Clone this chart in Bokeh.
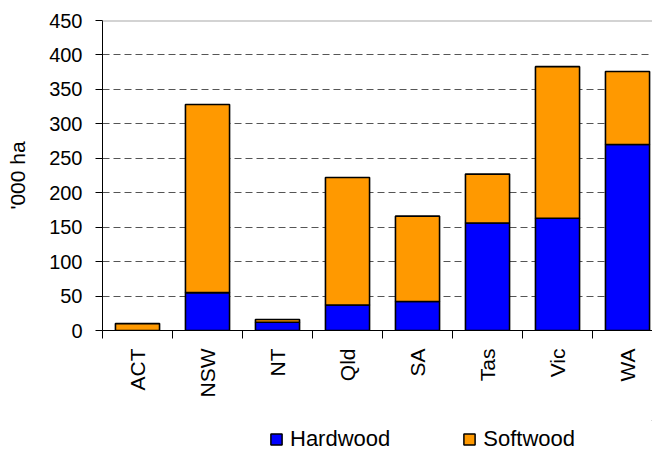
import math
from bokeh.plotting import figure
from bokeh.models import (Range1d, FixedTicker, Legend, LegendItem, Span)
from bokeh.layouts import column
from bokeh.embed import file_html
from bokeh.resources import INLINE

# ---- data ----
states = ["ACT", "NSW", "NT", "Qld", "SA", "Tas", "Vic", "WA"]
hardwood = [0, 55, 12, 37, 42, 156, 163, 270]
softwood = [10, 273, 4, 185, 124, 71, 220, 106]
y_ticks = [0, 50, 100, 150, 200, 250, 300, 350, 400, 450]
series_names = ["Hardwood", "Softwood"]
colors = ["#0000FF", "#FF9900"]

FONT = "Liberation Sans"

x_pos = [i + 0.5 for i in range(len(states))]
bottom_soft = hardwood
top_soft = [h + s for h, s in zip(hardwood, softwood)]

p = figure(width=652, height=420, output_backend="svg", toolbar_location=None,
           x_range=Range1d(0, 7.857), y_range=Range1d(0, 450),
           min_border_left=102, min_border_top=20, min_border_bottom=90,
           min_border_right=0)
p.outline_line_color = None
p.background_fill_color = "white"
p.border_fill_color = "white"

r_hard = p.vbar(x=x_pos, bottom=0, top=hardwood, width=0.63,
                fill_color=colors[0], line_color="black", line_width=1.6)
r_soft = p.vbar(x=x_pos, bottom=bottom_soft, top=top_soft, width=0.63,
                fill_color=colors[1], line_color="black", line_width=1.6)

# top frame line
p.add_layout(Span(location=450, dimension="width", line_color="#a8a8a8", line_width=2))

# y axis
p.yaxis.ticker = FixedTicker(ticks=y_ticks)
p.yaxis.minor_tick_line_color = None
p.yaxis.major_tick_in = 0
p.yaxis.major_tick_out = 7
p.yaxis.major_tick_line_color = "black"
p.yaxis.axis_line_color = "black"
p.yaxis.major_label_text_font = FONT
p.yaxis.major_label_text_font_size = "20px"
p.yaxis.major_label_text_color = "black"
p.yaxis.major_label_standoff = 13
p.yaxis.axis_label = "'000 ha"
p.yaxis.axis_label_text_font = FONT
p.yaxis.axis_label_text_font_size = "21px"
p.yaxis.axis_label_text_font_style = "normal"
p.yaxis.axis_label_text_color = "black"
p.yaxis.axis_label_standoff = 17

# x axis
p.xaxis.ticker = FixedTicker(ticks=x_pos, minor_ticks=list(range(len(states) + 1)))
p.xaxis.major_label_overrides = {x: s for x, s in zip(x_pos, states)}
p.xaxis.major_label_orientation = math.pi / 2
p.xaxis.major_tick_line_color = None
p.xaxis.major_tick_in = 0
p.xaxis.major_tick_out = 7
p.xaxis.minor_tick_in = 0
p.xaxis.minor_tick_out = 8
p.xaxis.minor_tick_line_color = "black"
p.xaxis.axis_line_color = "black"
p.xaxis.major_label_text_font = FONT
p.xaxis.major_label_text_font_size = "21px"
p.xaxis.major_label_text_color = "black"
p.xaxis.major_label_standoff = 10

# grid
p.xgrid.grid_line_color = None
p.ygrid.ticker = FixedTicker(ticks=y_ticks[1:-1])
p.ygrid.grid_line_color = "#555555"
p.ygrid.grid_line_dash = "7 4"
p.ygrid.grid_line_width = 1

# legend strip (dummy renderers far outside the visible range, used only as legend keys)
p2 = figure(width=652, height=32, output_backend="svg", toolbar_location=None,
            x_range=Range1d(0, 652), y_range=Range1d(0, 32),
            x_axis_location=None, y_axis_location=None, min_border=0)
p2.outline_line_color = None
p2.grid.visible = False
l_hard = p2.vbar(x=[5000], bottom=[5000], top=[5001], width=1,
                 fill_color=colors[0], line_color="black", line_width=1.5)
l_soft = p2.vbar(x=[5000], bottom=[5000], top=[5001], width=1,
                 fill_color=colors[1], line_color="black", line_width=1.5)

legend = Legend(items=[LegendItem(label=series_names[0], renderers=[l_hard]),
                       LegendItem(label=series_names[1], renderers=[l_soft])],
                location=(167, 0), orientation="horizontal",
                glyph_width=14, glyph_height=14, label_standoff=7, spacing=72,
                label_height=22,
                margin=0, padding=0, border_line_color=None,
                background_fill_alpha=0,
                label_text_font=FONT, label_text_font_size="22px",
                label_text_color="black")
p2.add_layout(legend, "center")

open("out.html", "w").write(file_html(column(p, p2, spacing=0), INLINE))
